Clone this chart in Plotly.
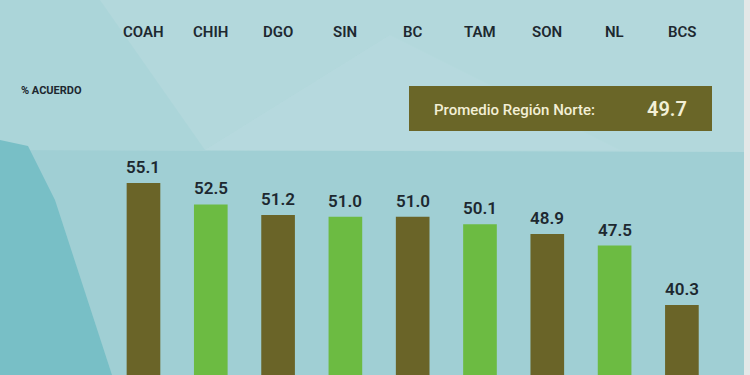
import plotly.graph_objects as go

categories = ["COAH", "CHIH", "DGO", "SIN", "BC", "TAM", "SON", "NL", "BCS"]
values = [55.1, 52.5, 51.2, 51.0, 51.0, 50.1, 48.9, 47.5, 40.3]
bar_colors = ["#6a6428", "#6cbb42", "#6a6428", "#6cbb42", "#6a6428",
              "#6cbb42", "#6a6428", "#6cbb42", "#6a6428"]
average_label = "Promedio Región Norte:"
average_value = 49.7
y_label = "% ACUERDO"

W, H = 750, 375
FONT = "Roboto"
TXT = "#1d2830"

fig = go.Figure()
fig.add_trace(go.Bar(
    x=list(range(len(categories))),
    y=values,
    marker=dict(color=bar_colors, line=dict(width=0)),
    width=0.5,
    hoverinfo="skip",
))

def px(x):
    return x / W

def py(y):
    return 1 - y / H

shapes = [
    # lower band (slightly darker)
    dict(type="path", xref="paper", yref="paper", layer="below",
         path=f"M 0 {py(150)} L 1 {py(152)} L 1 0 L 0 0 Z",
         fillcolor="#a0cfd4", line=dict(width=0)),
    # faint diagonal planes upper area
    dict(type="path", xref="paper", yref="paper", layer="below",
         path=f"M {px(100)} 1 L {px(205)} {py(150)} L 0 {py(150)} L 0 1 Z",
         fillcolor="rgba(140,200,206,0.18)", line=dict(width=0)),
    dict(type="path", xref="paper", yref="paper", layer="below",
         path=f"M {px(205)} {py(150)} L {px(390)} {py(35)} L {px(620)} {py(150)} Z",
         fillcolor="rgba(205,232,235,0.12)", line=dict(width=0)),
    # darker teal lower-left
    dict(type="path", xref="paper", yref="paper", layer="below",
         path=f"M 0 {py(140)} L {px(28)} {py(146)} L {px(55)} {py(200)} L {px(112)} 0 L 0 0 Z",
         fillcolor="#78bfc6", line=dict(width=0)),
    # right grey strip
    dict(type="rect", xref="paper", yref="paper", layer="below",
         x0=px(744), x1=1, y0=0, y1=1,
         fillcolor="#e4e8e8", line=dict(width=0)),
    # average box
    dict(type="rect", xref="paper", yref="paper",
         x0=px(409), x1=px(712), y0=py(131), y1=py(86),
         fillcolor="#6a6628", line=dict(width=0)),
]

annotations = []
for i, (c, v) in enumerate(zip(categories, values)):
    annotations.append(dict(
        x=i, xref="x", y=py(32), yref="paper", text=c, showarrow=False,
        font=dict(family=FONT, size=15, color=TXT, weight=600),
        xanchor="center", yanchor="middle"))
    annotations.append(dict(
        x=i, xref="x", y=v, yref="y", text=f"{v:.1f}", showarrow=False,
        font=dict(family=FONT, size=17, color=TXT, weight=600),
        xanchor="center", yanchor="bottom", yshift=4))
annotations.append(dict(
    x=px(19), y=py(90), xref="paper", yref="paper", text=y_label,
    showarrow=False, xanchor="left", yanchor="middle",
    font=dict(family=FONT, size=11, color=TXT, weight=700)))
annotations.append(dict(
    x=px(432), y=py(110), xref="paper", yref="paper", text=average_label,
    showarrow=False, xanchor="left", yanchor="middle",
    font=dict(family=FONT, size=15, color="#f3efd6", weight=500)))
annotations.append(dict(
    x=px(689), y=py(109), xref="paper", yref="paper", text=f"{average_value:.1f}",
    showarrow=False, xanchor="right", yanchor="middle",
    font=dict(family=FONT, size=20, color="#f3efd6", weight=600)))

fig.update_layout(
    width=W, height=H,
    margin=dict(l=0, r=0, t=0, b=0),
    paper_bgcolor="#b3d8dc",
    plot_bgcolor="rgba(0,0,0,0)",
    showlegend=False,
    shapes=shapes,
    annotations=annotations,
    xaxis=dict(range=[-2.132, 9.012], visible=False, fixedrange=True),
    yaxis=dict(range=[31.8, 77.3], visible=False, fixedrange=True),
)

fig.write_html("out.html", config=dict(displayModeBar=False),
               post_script="document.body.style.margin='0';document.body.style.overflow='hidden';")
